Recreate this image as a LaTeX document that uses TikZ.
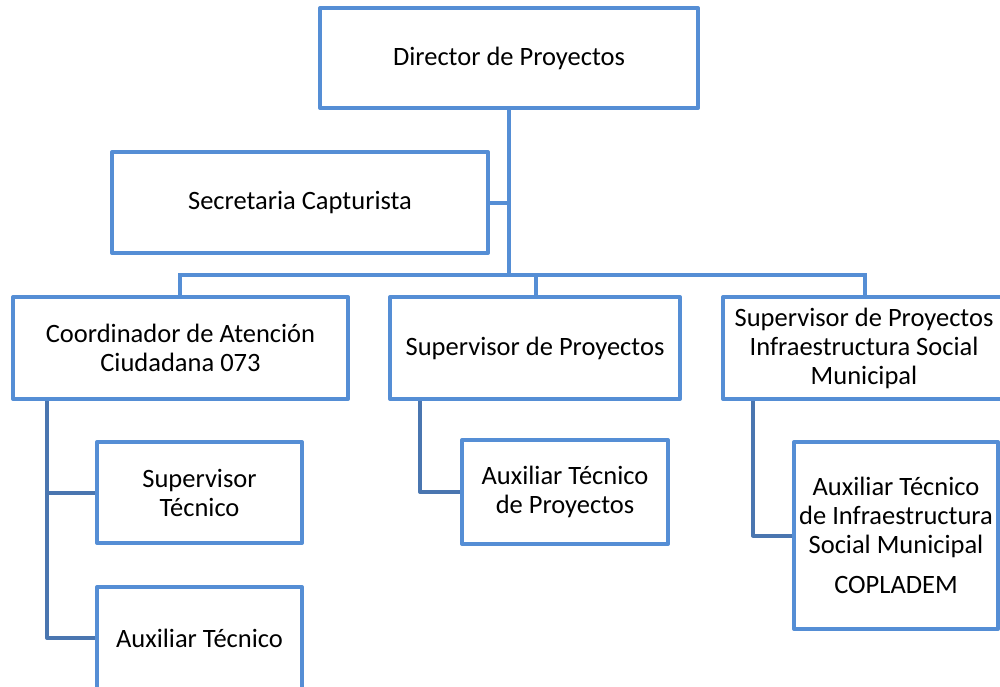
\documentclass[tikz,border=0pt]{standalone}
\usepackage{fontspec}
\setmainfont{Carlito}
\definecolor{boxblue}{RGB}{85,142,213}
\definecolor{linkblue}{RGB}{74,118,176}
\begin{document}
\begin{tikzpicture}[x=1pt,y=-1pt,
  orgbox/.style={draw=boxblue, line width=4pt, fill=white, align=center, inner sep=0pt,
    font=\fontsize{26.5}{29}\selectfont, line join=round},
  trunk/.style={draw=boxblue, line width=4pt},
  sublink/.style={draw=linkblue, line width=4pt, line join=round}]
\clip (0,0) rectangle (1000,686);
\useasboundingbox (0,0) rectangle (1000,686);
% coordinates
\coordinate (busL) at (180,275);
\coordinate (busM) at (536,275);
\coordinate (busR) at (865,275);
\coordinate (busC) at (509,275);
\coordinate (xc) at (47,0);
\coordinate (xs) at (420,0);
\coordinate (xi) at (753,0);
% nodes
\node[orgbox, minimum width=378pt, minimum height=100pt] (dir) at (509,58) {Director de Proyectos};
\node[orgbox, minimum width=376pt, minimum height=101pt] (sec) at (300,202.5) {Secretaria Capturista};
\node[orgbox, minimum width=335pt, minimum height=102pt] (coord) at (180.5,348) {Coordinador de Atención\\Ciudadana 073};
\node[orgbox, minimum width=290pt, minimum height=102pt] (sup) at (535,348) {Supervisor de Proyectos};
\node[orgbox, minimum width=282pt, minimum height=102pt] (ism) at (864,348) {Supervisor de Proyectos\\Infraestructura Social\\Municipal};
\node[orgbox, minimum width=205pt, minimum height=101pt] (st) at (199.5,492.5) {Supervisor\\Técnico};
\node[orgbox, minimum width=205pt, minimum height=102pt] (at) at (199.5,638) {Auxiliar Técnico};
\node[orgbox, minimum width=206pt, minimum height=104pt] (atp) at (565,492) {Auxiliar Técnico\\de Proyectos};
\node[orgbox, minimum width=204pt, minimum height=187pt] (atism) at (896,535.5) {Auxiliar Técnico\\de Infraestructura\\Social Municipal\\[11pt]COPLADEM};
% connectors
\draw[trunk] (dir.south) -- (busC);
\draw[trunk] (sec.east) -- (sec.east -| busC);
\draw[trunk] ([xshift=-2pt]busL) -- ([xshift=2pt]busR);
\draw[trunk] (busL) -- (coord.north -| busL);
\draw[trunk] (busM) -- (sup.north -| busM);
\draw[trunk] (busR) -- (ism.north -| busR);
\draw[sublink] (xc |- coord.south) -- (xc |- at.west) -- (at.west);
\draw[sublink] (xc |- st.west) -- (st.west);
\draw[sublink] (xs |- sup.south) -- (xs |- atp.west) -- (atp.west);
\draw[sublink] (xi |- ism.south) -- (xi |- atism.west) -- (atism.west);
\end{tikzpicture}
\end{document}
